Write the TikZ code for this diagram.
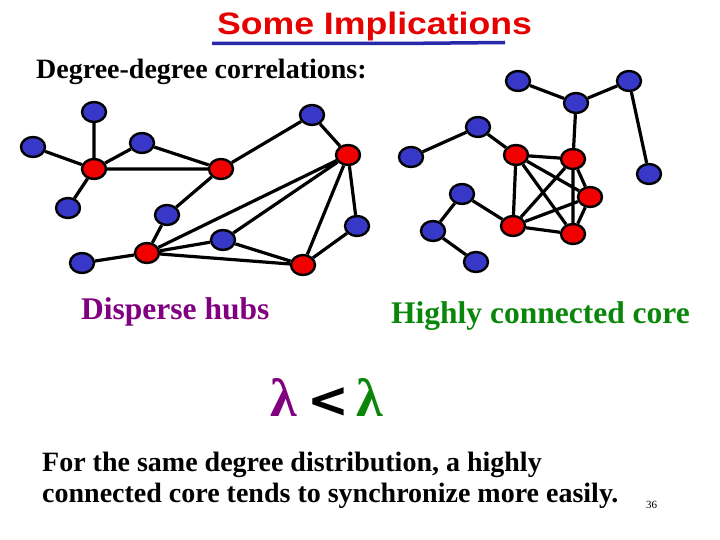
\documentclass[tikz,border=0pt]{standalone}
\usepackage{fontspec}
\setmainfont{Liberation Serif}
\newfontfamily\titlefont{Liberation Sans}
\newfontfamily\symfont{DejaVu Sans}
\usetikzlibrary{shapes.geometric,backgrounds}
\definecolor{nodeblue}{RGB}{56,56,200}
\definecolor{nodered}{RGB}{240,0,0}
\definecolor{titlered}{RGB}{230,0,0}
\definecolor{ulblue}{RGB}{40,40,170}
\definecolor{hubpurple}{RGB}{128,0,128}
\definecolor{coregreen}{RGB}{10,135,10}
\tikzset{
  vb/.style={ellipse,draw=black,line width=2.4pt,fill=nodeblue,minimum width=24pt,minimum height=20pt,inner sep=0pt},
  vr/.style={vb,fill=nodered},
  edge/.style={line width=3.2pt,black},
  txt/.style={inner sep=0pt,anchor=base west},
}
\begin{document}
\begin{tikzpicture}[x=1pt,y=-1pt]
\useasboundingbox (0,0) rectangle (720,540);
% title
\node[inner sep=0pt,anchor=base] (title) at (374.5,35) {\titlefont\bfseries\fontsize{31}{34}\selectfont\color{titlered}\scalebox{1.15}[1]{Some Implications}};
\coordinate (u1) at (212,43.5);
\coordinate (u2) at (397,43.5);
\coordinate (u3) at (505,42.5);
\draw[ulblue,line width=3.5pt] (u1) -- (u2) -- (u3);
\node[txt] (sub) at (36,79) {\bfseries\fontsize{28}{31}\selectfont Degree-degree correlations:};
% left graph
\node[vb] (A) at (94,112) {};
\node[vb] (B) at (33,147) {};
\node[vr] (C) at (94,169) {};
\node[vb] (D) at (142,143) {};
\node[vb] (E) at (68,208) {};
\node[vr] (F) at (221,169) {};
\node[vb] (G) at (312,115) {};
\node[vr] (H) at (348,155) {};
\node[vb] (I) at (167,215) {};
\node[vb] (J) at (357,226) {};
\node[vb] (K) at (223,240) {};
\node[vr] (L) at (147,253) {};
\node[vb] (M) at (82,263) {};
\node[vr] (N) at (303,265) {};
% right graph
\node[vb] (a) at (518,81) {};
\node[vb] (b) at (576,103) {};
\node[vb] (c) at (629,81) {};
\node[vb] (d) at (478,127) {};
\node[vb] (e) at (411,157) {};
\node[vr] (f) at (516,155) {};
\node[vr] (g) at (573,159) {};
\node[vb] (h) at (649,174) {};
\node[vb] (i) at (462,194) {};
\node[vr] (j) at (590,197) {};
\node[vb] (k) at (433,231) {};
\node[vr] (l) at (513,226) {};
\node[vr] (m) at (573,234) {};
\node[vb] (n) at (476,262) {};
\begin{scope}[on background layer]
\draw[edge] (A)--(C) (B)--(C) (C)--(D) (C)--(E) (C)--(F) (D)--(F) (F)--(G) (G)--(H)
  (F)--(I) (I)--(L) (L)--(M) (L)--(H) (L)--(K) (L)--(N) (K)--(H) (K)--(N) (H)--(N) (H)--(J) (J)--(N);
\draw[edge] (a)--(b) (b)--(c) (b)--(g) (c)--(h) (d)--(e) (d)--(f) (f)--(g) (f)--(l) (f)--(j) (f)--(m)
  (g)--(l) (g)--(j) (g)--(m) (j)--(l) (j)--(m) (l)--(m) (i)--(l) (i)--(k) (k)--(n);
\end{scope}
% labels
\node[txt] (hubs) at (81,319) {\bfseries\fontsize{31.5}{34}\selectfont\color{hubpurple}Disperse hubs};
\node[txt] (core) at (391,323) {\bfseries\fontsize{31.5}{34}\selectfont\color{coregreen}Highly connected core};
\node[txt] (lam1) at (270,416) {\bfseries\fontsize{54}{58}\selectfont\color{hubpurple}λ};
\node[inner sep=0pt,anchor=base] (lt) at (328,417) {\symfont\bfseries\fontsize{50}{54}\selectfont <};
\node[txt] (lam2) at (356,416) {\bfseries\fontsize{54}{58}\selectfont\color{coregreen}λ};
\node[inner sep=0pt,align=left,anchor=north west,font=\bfseries\fontsize{28}{31}\selectfont] (body) at (42,452) {For the same degree distribution, a highly\\ connected core tends to synchronize more easily.};
\node[txt] (pg) at (646,508) {\fontsize{11}{13}\selectfont 36};
\end{tikzpicture}
\end{document}
